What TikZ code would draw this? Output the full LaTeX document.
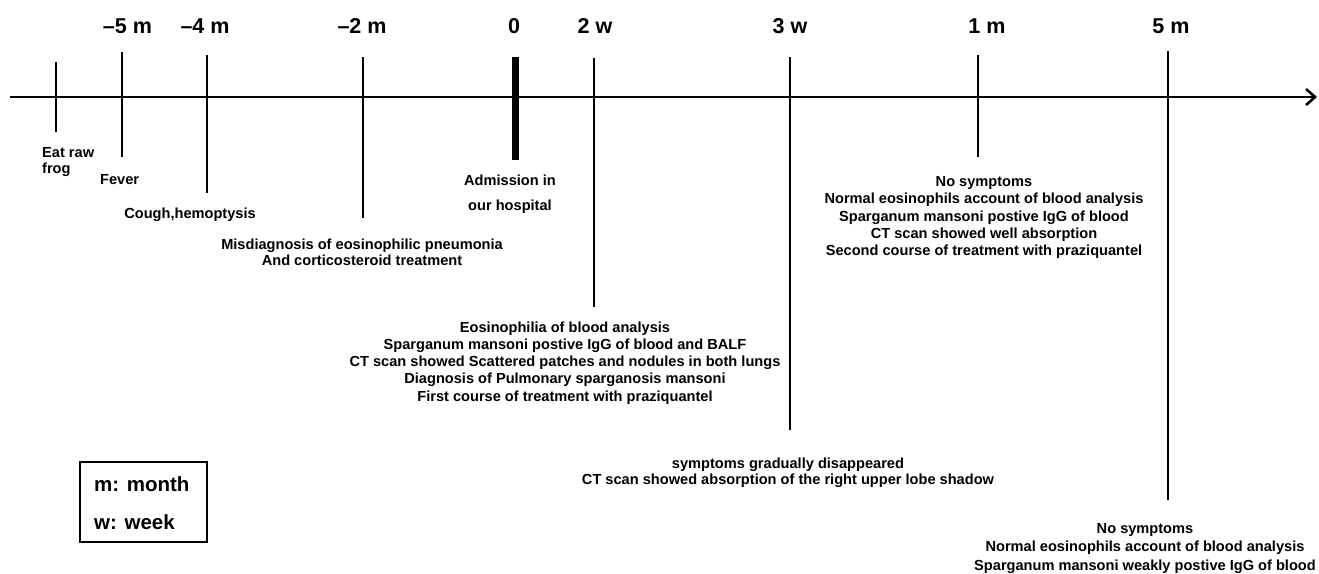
\documentclass[tikz,border=0pt]{standalone}
\usepackage{fontspec}
\setmainfont{Liberation Sans}
\usetikzlibrary{arrows.meta}
\begin{document}
\begin{tikzpicture}[x=1pt,y=-1pt,
  ticklbl/.style={font=\bfseries\fontsize{21.5}{21.5}\selectfont, inner sep=0},
  evt/.style={font=\bfseries\fontsize{14.6}{17.2}\selectfont, align=center, inner sep=0},
  legtxt/.style={font=\bfseries\fontsize{20.5}{20.5}\selectfont, inner sep=0, anchor=west},
  tickline/.style={line width=2.2pt},
  axisline/.style={line width=2pt, -{Straight Barb[length=9pt,width=16pt,line width=2.6pt]}}]
\useasboundingbox (0,0) rectangle (1319,573);

% axis
\coordinate (axL) at (10,97);
\coordinate (axR) at (1317,97);
\draw[axisline] (axL) -- (axR);

% ticks
\coordinate (t0a) at (56,62);   \coordinate (t0b) at (56,132);
\coordinate (t1a) at (122,52);  \coordinate (t1b) at (122,157);
\coordinate (t2a) at (207,55);  \coordinate (t2b) at (207,193);
\coordinate (t3a) at (363,57);  \coordinate (t3b) at (363,218);
\coordinate (t4a) at (515,57);  \coordinate (t4b) at (515,160);
\coordinate (t5a) at (594,58);  \coordinate (t5b) at (594,307);
\coordinate (t6a) at (790,57);  \coordinate (t6b) at (790,430);
\coordinate (t7a) at (978,55);  \coordinate (t7b) at (978,157);
\coordinate (t8a) at (1168,51); \coordinate (t8b) at (1168,500);
\foreach \i in {0,1,2,3,5,6,7,8} {\draw[tickline] (t\i a) -- (t\i b);}
\draw[line width=7pt] (t4a) -- (t4b);

% tick labels
\node[ticklbl] (l1) at (127.5,26) {–5 m};
\node[ticklbl] (l2) at (205,26) {–4 m};
\node[ticklbl] (l3) at (362,26) {–2 m};
\node[ticklbl] (l4) at (514,26) {0};
\node[ticklbl] (l5) at (595,26) {2 w};
\node[ticklbl] (l6) at (790,26) {3 w};
\node[ticklbl] (l7) at (987,26) {1 m};
\node[ticklbl] (l8) at (1171,26) {5 m};

% events
\node[evt, align=left, anchor=west, font=\bfseries\fontsize{14.6}{16}\selectfont] (e0) at (42,162) {Eat raw\\frog};
\node[evt, anchor=west] (e1) at (100,180) {Fever};
\node[evt] (e2) at (190,215) {Cough,hemoptysis};
\node[evt, font=\bfseries\fontsize{14.6}{15.5}\selectfont] (e3) at (362,252.5) {Misdiagnosis of eosinophilic pneumonia\\And corticosteroid treatment};
\node[evt, font=\bfseries\fontsize{14.6}{25}\selectfont] (e4) at (510,194.5) {Admission in\\our hospital};
\node[evt] (e5) at (565,363) {Eosinophilia of blood analysis\\Sparganum mansoni postive IgG of blood and BALF\\CT scan showed Scattered patches and nodules in both lungs\\Diagnosis of Pulmonary sparganosis mansoni\\First course of treatment with praziquantel};
\node[evt, font=\bfseries\fontsize{14.6}{16}\selectfont] (e6) at (788,473) {symptoms gradually disappeared\\CT scan showed absorption of the right upper lobe shadow};
\node[evt] (e7) at (984,217.5) {No symptoms\\Normal eosinophils account of blood analysis\\Sparganum mansoni postive IgG of blood\\CT scan showed well absorption\\Second course of treatment with praziquantel};
\node[evt, font=\bfseries\fontsize{14.6}{18.3}\selectfont] (e8) at (1145,548.5) {No symptoms\\Normal eosinophils account of blood analysis\\Sparganum mansoni weakly postive IgG of blood};

% legend
\draw[line width=1.2pt] (80,462) rectangle (207,542);
\node[legtxt] (g1) at (94,484) {m: month};
\node[legtxt] (g2) at (94,522) {w: week};
\end{tikzpicture}
\end{document}
